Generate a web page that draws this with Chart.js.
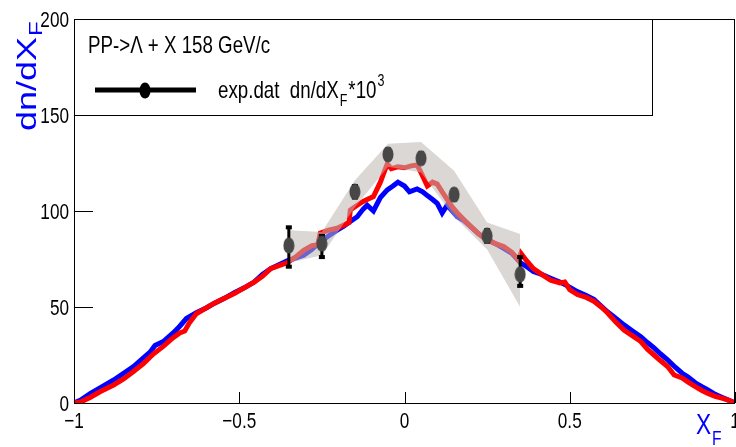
<!DOCTYPE html>
<html>
<head>
<meta charset="utf-8">
<script src="https://cdn.jsdelivr.net/npm/chart.js@4/dist/chart.umd.min.js"></script>
<style>
  html, body { margin: 0; padding: 0; background: #fff; }
  canvas { display: block; }
</style>
</head>
<body>
<canvas id="xfChart" width="736" height="447"></canvas>
<script>
// --- Data ---
const blueX = [-1.0,-0.98,-0.95,-0.92,-0.88,-0.85,-0.82,-0.79,-0.77,-0.755,-0.73,-0.70,-0.68,-0.66,-0.63,-0.60,-0.575,-0.545,-0.515,-0.485,-0.455,-0.43,-0.405,-0.38,-0.355,-0.33,-0.305,-0.28,-0.255,-0.23,-0.204,-0.185,-0.164,-0.143,-0.125,-0.113,-0.094,-0.073,-0.052,-0.035,-0.02,0.0,0.015,0.038,0.055,0.069,0.085,0.099,0.114,0.129,0.145,0.16,0.18,0.2,0.225,0.25,0.275,0.30,0.325,0.351,0.37,0.39,0.415,0.442,0.47,0.493,0.523,0.55,0.573,0.595,0.614,0.64,0.664,0.69,0.715,0.735,0.755,0.775,0.796,0.82,0.84,0.857,0.88,0.9,0.918,0.94,0.96,0.98,1.0];
const blueY = [0,1.5,5,8,12,15.5,19,23.5,26.5,30,32,36.5,40,44,47,49.5,52,54.5,57.5,60,63,67,70,72,74,75.5,77,80,84,87,90,92,94.5,97,101,103,100,107,111,113,115,113,110,111.5,110,108,106,104,99,103,100,97,95,92,88,85,83,80.5,78,73,71,68.5,67,65,63,61,58,56,54,50.5,47.5,44,40.7,37.5,34.5,31.5,28.7,25.5,22.5,18.5,15.5,13.6,10.5,8.5,6.8,4.5,3,1.5,0];

const redX = [-1.0,-0.98,-0.95,-0.92,-0.88,-0.85,-0.82,-0.79,-0.76,-0.73,-0.70,-0.68,-0.665,-0.65,-0.63,-0.60,-0.575,-0.545,-0.515,-0.485,-0.455,-0.43,-0.405,-0.38,-0.355,-0.33,-0.305,-0.28,-0.262,-0.255,-0.23,-0.204,-0.18,-0.168,-0.164,-0.143,-0.125,-0.113,-0.094,-0.073,-0.06,-0.052,-0.04,-0.02,0.0,0.02,0.038,0.05,0.069,0.085,0.099,0.114,0.129,0.145,0.16,0.18,0.2,0.225,0.25,0.275,0.30,0.325,0.345,0.352,0.37,0.39,0.415,0.442,0.47,0.485,0.50,0.523,0.55,0.573,0.595,0.614,0.64,0.664,0.69,0.715,0.735,0.755,0.775,0.796,0.816,0.84,0.857,0.88,0.9,0.918,0.94,0.96,0.98,1.0];
const redY = [0,0.5,3,6,9.4,12.5,16.4,20.5,25.5,29.5,34,36.5,37.5,42,46.5,49.5,52,54.5,57,60,63,66,70,71.5,73,76,79.5,82,82.5,88.5,90,91,93,94,100.5,103,105,106,107.5,115,121,124.5,122,123,122.5,123.5,124,120,113,115,114,110,106,102,99,95.5,92,88,85,83,81.5,78.5,74.5,78,74,70,67,64,62.5,63,59,56.5,55,53,50,47,42,38,35,32,28,25,22,19,14.6,13,11,8.5,6.5,5,3.5,2.5,1.5,0];

// exp.dat points, error bars and the grey band around them
const expX = [-0.35,-0.25,-0.15,-0.05,0.05,0.15,0.25,0.35];
const expY = [82,83,110,129.5,127.5,108.5,87,67];
const errLo = [71,76,107,127,125,106,84,61];
const errHi = [91.5,87,113,132,130,111,90,76];
const bandHi = [90,89,116,135,136,121,94,88];
const bandLo = [73,77,102,123,120,97,80,50];

const xTicks = [-1,-0.5,0,0.5,1];
const xTickLabels = ["\u22121","\u22120.5","0","0.5","1"];
const yTicks = [0,50,100,150,200];
const yTickLabels = ["0","50","100","150","200"];

const legendTitle = "PP->\u039B + X 158 GeV/c";

// --- Helpers ---
const FONT = "'Liberation Sans', Arial, sans-serif";
const SX = 0.78; // text in the picture is squeezed horizontally

const zip = (xs, ys) => xs.map((x, i) => ({ x: x, y: ys[i] }));

function drawText(ctx, str, x, y, size, color, align) {
  ctx.save();
  ctx.translate(x, y);
  ctx.scale(SX, 1);
  ctx.font = size + "px " + FONT;
  ctx.fillStyle = color;
  ctx.textAlign = align || "left";
  ctx.textBaseline = "alphabetic";
  ctx.fillText(str, 0, 0);
  const w = ctx.measureText(str).width * SX;
  ctx.restore();
  return w;
}

function ellipseMarker(w, h, color) {
  const c = document.createElement("canvas");
  c.width = w; c.height = h;
  const g = c.getContext("2d");
  g.fillStyle = color;
  g.beginPath();
  g.ellipse(w / 2, h / 2, w / 2 - 0.5, h / 2 - 0.5, 0, 0, Math.PI * 2);
  g.fill();
  return c;
}

const marker = ellipseMarker(12, 17, "#474747");

// --- Plugins: background, error bars, frame + ticks + texts ---
const whiteBg = {
  id: "whiteBg",
  beforeDraw(chart) {
    const ctx = chart.ctx;
    ctx.save();
    ctx.fillStyle = "#fff";
    ctx.fillRect(0, 0, chart.width, chart.height);
    ctx.restore();
  }
};

const errorBars = {
  id: "errorBars",
  beforeDatasetDraw(chart, args) {
    if (args.index !== 4) return;
    const ctx = chart.ctx;
    const xs = chart.scales.x, ys = chart.scales.y;
    ctx.save();
    ctx.strokeStyle = "#000";
    ctx.fillStyle = "#000";
    ctx.lineWidth = 3;
    expX.forEach((x, i) => {
      const px = xs.getPixelForValue(x);
      const lo = ys.getPixelForValue(errLo[i]);
      const hi = ys.getPixelForValue(errHi[i]);
      ctx.beginPath();
      ctx.moveTo(px, lo);
      ctx.lineTo(px, hi);
      ctx.stroke();
      ctx.fillRect(px - 3, lo - 2, 6, 4);
      ctx.fillRect(px - 3, hi - 2, 6, 4);
    });
    ctx.restore();
  }
};

const decorations = {
  id: "decorations",
  afterDraw(chart) {
    const ctx = chart.ctx;
    const a = chart.chartArea;
    const xs = chart.scales.x, ys = chart.scales.y;

    ctx.save();
    // frame
    ctx.strokeStyle = "#000";
    ctx.lineWidth = 1;
    ctx.strokeRect(Math.round(a.left) + 0.5, Math.round(a.top) + 0.5,
      Math.round(a.right - a.left) - 1, Math.round(a.bottom - a.top));

    // tick marks (inside)
    ctx.beginPath();
    yTicks.forEach((v) => {
      const py = Math.round(ys.getPixelForValue(v)) + 0.5;
      ctx.moveTo(a.left, py);
      ctx.lineTo(a.left + 19, py);
    });
    xTicks.forEach((v) => {
      const px = Math.round(xs.getPixelForValue(v)) + 0.5;
      ctx.moveTo(px, a.bottom);
      ctx.lineTo(px, a.bottom - 11);
    });
    ctx.stroke();

    // tick labels
    yTicks.forEach((v, i) => {
      drawText(ctx, yTickLabels[i], a.left - 5, ys.getPixelForValue(v) + 8, 22, "#000", "right");
    });
    xTicks.forEach((v, i) => {
      drawText(ctx, xTickLabels[i], xs.getPixelForValue(v), a.bottom + 25, 22, "#000", "center");
    });

    // legend box
    const boxR = xs.getPixelForValue(0.75);
    const boxB = ys.getPixelForValue(150);
    ctx.fillStyle = "#fff";
    ctx.fillRect(a.left, a.top, boxR - a.left, boxB - a.top);
    ctx.strokeRect(Math.round(a.left) + 0.5, Math.round(a.top) + 0.5,
      Math.round(boxR - a.left), Math.round(boxB - a.top));

    drawText(ctx, legendTitle, 88, 53, 24, "#000");

    ctx.strokeStyle = "#000";
    ctx.lineWidth = 5;
    ctx.beginPath();
    ctx.moveTo(95, 90);
    ctx.lineTo(196, 90);
    ctx.stroke();
    ctx.drawImage(ellipseMarker(12, 17, "#000"), 139, 82);

    let x = 218;
    x += drawText(ctx, "exp.dat  dn/dX", x, 98, 24, "#000");
    x += drawText(ctx, "F", x + 1, 106, 16, "#000") + 2;
    x += drawText(ctx, "*10", x, 98, 24, "#000");
    drawText(ctx, "3", x + 1, 86, 16, "#000");

    // axis titles (blue)
    ctx.save();
    ctx.translate(36, 131);
    ctx.rotate(-Math.PI / 2);
    ctx.scale(1, SX);
    ctx.font = "36px " + FONT;
    ctx.fillStyle = "#0000ff";
    ctx.textBaseline = "alphabetic";
    ctx.fillText("dn/dX", 0, 0);
    const tw = ctx.measureText("dn/dX").width;
    ctx.font = "24px " + FONT;
    ctx.fillText("F", tw + 1, 8);
    ctx.restore();

    const xw = drawText(ctx, "X", 696, 434, 29, "#0000ff");
    drawText(ctx, "F", 696 + xw + 1, 445, 20, "#0000ff");

    ctx.restore();
  }
};

// --- Chart ---
function initChart() {
  const ctx = document.getElementById("xfChart");
  return new Chart(ctx, {
    type: "line",
    data: {
      datasets: [
        {
          label: "blue",
          data: zip(blueX, blueY),
          borderColor: "#0000ff",
          borderWidth: 5,
          pointRadius: 0,
          fill: false,
          order: 3
        },
        {
          label: "red",
          data: zip(redX, redY),
          borderColor: "#ff0000",
          borderWidth: 5,
          pointRadius: 0,
          fill: false,
          order: 2
        },
        {
          label: "band high",
          data: zip(expX, bandHi),
          borderWidth: 0,
          borderColor: "rgba(0,0,0,0)",
          backgroundColor: "rgba(188,183,177,0.55)",
          pointRadius: 0,
          fill: "+1",
          order: 1
        },
        {
          label: "band low",
          data: zip(expX, bandLo),
          borderWidth: 0,
          borderColor: "rgba(0,0,0,0)",
          pointRadius: 0,
          fill: false,
          order: 1
        },
        {
          label: "exp.dat",
          data: zip(expX, expY),
          showLine: false,
          pointStyle: marker,
          pointRadius: 8,
          order: 0
        }
      ]
    },
    options: {
      responsive: false,
      animation: false,
      events: [],
      layout: { autoPadding: false, padding: { top: 19, right: 1, left: 0, bottom: 0 } },
      plugins: {
        legend: { display: false },
        tooltip: { enabled: false }
      },
      scales: {
        x: {
          type: "linear",
          min: -1,
          max: 1,
          ticks: { display: false },
          grid: { display: false },
          border: { display: false },
          afterFit: (s) => { s.height = 44; }
        },
        y: {
          type: "linear",
          min: 0,
          max: 200,
          ticks: { display: false },
          grid: { display: false },
          border: { display: false },
          afterFit: (s) => { s.width = 74; }
        }
      }
    },
    plugins: [whiteBg, errorBars, decorations]
  });
}

initChart();
</script>
</body>
</html>
